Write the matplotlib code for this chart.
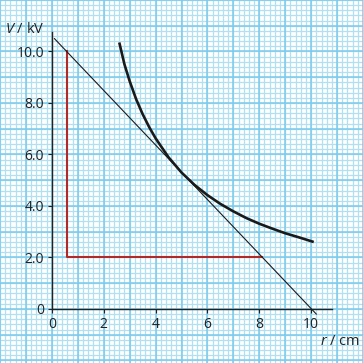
import numpy as np
import matplotlib
matplotlib.use("Agg")
import matplotlib.pyplot as plt

# curve V against r
r_curve = [2.6, 2.8, 3.0, 3.25, 3.5, 3.75, 4.0, 4.5, 5.0, 5.5, 6.0, 6.5, 7.0, 7.5, 8.0, 8.5, 9.0, 9.5, 10.1]
v_curve = [10.35, 9.5, 8.85, 8.15, 7.57, 7.07, 6.63, 5.89, 5.3, 4.82, 4.42, 4.08, 3.79, 3.53, 3.31, 3.12, 2.94, 2.79, 2.6]

# tangent line end points
r_tan = [0.1, 10.2]
v_tan = [10.5, -0.2]

# red construction triangle
r_red = [0.6, 0.6, 8.1]
v_red = [10.0, 2.0, 2.0]

x_ticks = [0, 2, 4, 6, 8, 10]
x_labels = ["0", "2", "4", "6", "8", "10"]
y_ticks = [0, 2, 4, 6, 8, 10]
y_labels = ["0", "2.0", "4.0", "6.0", "8.0", "10.0"]

plt.rcParams["font.family"] = ["Open Sans", "DejaVu Sans"]
plt.rcParams["mathtext.fontset"] = "custom"
plt.rcParams["mathtext.it"] = "Open Sans:italic"

fig = plt.figure(figsize=(3.63, 3.63), dpi=100)
ax = fig.add_axes([0, 0, 1, 1])
ax.set_xlim(-2.0, 12.0)
ax.set_ylim(-2.1, 12.0)

# graph paper
minor = np.arange(-2.0, 12.01, 0.2)
major = np.arange(-2, 13, 1)
ax.vlines(minor, -3, 13, color="#b2e0f3", lw=0.9, zorder=0)
ax.hlines(minor, -3, 13, color="#b2e0f3", lw=0.9, zorder=0)
ax.vlines(major, -3, 13, color="#7ccbec", lw=1.1, zorder=0)
ax.hlines(major, -3, 13, color="#7ccbec", lw=1.1, zorder=0)

# axes
for s in ["top", "right"]:
    ax.spines[s].set_visible(False)
ax.spines["left"].set_position(("data", 0))
ax.spines["bottom"].set_position(("data", 0))
ax.spines["left"].set_bounds(0, 10.75)
ax.spines["bottom"].set_bounds(0, 10.8)
for s in ["left", "bottom"]:
    ax.spines[s].set_color("#222222")
    ax.spines[s].set_linewidth(1.0)

ax.set_xticks(x_ticks)
ax.set_xticklabels(x_labels)
ax.set_yticks(y_ticks)
ax.set_yticklabels(y_labels)
ax.tick_params(direction="out", length=3, width=0.8, color="#222222",
               labelsize=10, labelcolor="#222222", pad=2.5)

ax.plot(r_curve, v_curve, color="#1a1a1a", lw=1.9, solid_capstyle="butt", zorder=3)
ax.plot(r_tan, v_tan, color="#1a1a1a", lw=0.8, zorder=3)
ax.plot(r_red, v_red, color="#b02a2a", lw=1.5, zorder=2)

ax.text(-1.8, 10.85, r"$V$ / kV", fontsize=10.5, color="#222222", va="center", ha="left")
ax.text(10.35, -1.25, r"$r$ / cm", fontsize=10.5, color="#222222", va="center", ha="left")

fig.savefig("out.png", dpi=100)
